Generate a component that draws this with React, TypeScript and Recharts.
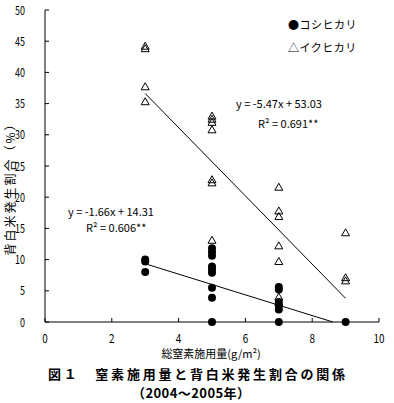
import React from "react";
import { ScatterChart, Scatter, XAxis, YAxis } from "recharts";

const koshiX = [3, 3, 3, 5, 5, 5, 5, 5, 5, 5, 5, 5, 7, 7, 7, 7, 7, 7, 9];
const koshiY = [10.0, 9.7, 8.0, 11.8, 11.2, 10.6, 8.9, 8.4, 7.9, 5.5, 3.9, 0, 5.6, 5.2, 3.2, 2.6, 2.0, 0, 0];
const ikuX = [3, 3, 3, 3, 5, 5, 5, 5, 5, 5, 5, 7, 7, 7, 7, 7, 7, 7, 9, 9, 9];
const ikuY = [44.2, 43.8, 37.7, 35.3, 33.0, 32.5, 32.0, 30.8, 22.8, 22.3, 13.1, 21.6, 17.8, 16.9, 12.2, 9.7, 4.0, 3.2, 14.3, 7.1, 6.6];

const koshiSlope = -1.66;
const koshiIntercept = 14.31;
const ikuSlope = -5.47;
const ikuIntercept = 53.03;

const xTicks = [0, 2, 4, 6, 8, 10];
const yTicks = [0, 5, 10, 15, 20, 25, 30, 35, 40, 45, 50];

const seriesNames = ["コシヒカリ", "イクヒカリ"];
const eqKoshi = ["y = -1.66x + 14.31", "R² = 0.606**"];
const eqIku = ["y = -5.47x + 53.03", "R² = 0.691**"];
const xTitle = "総窒素施用量(g/m²)";
const yTitle = "背白米発生割合（%）";
const titleLines = ["図１　窒素施用量と背白米発生割合の関係", "（2004～2005年）"];

const koshiData = koshiX.map((x, i) => ({ x, y: koshiY[i] }));
const ikuData = ikuX.map((x, i) => ({ x, y: ikuY[i] }));
const koshiFit = [
  { x: 3, y: koshiIntercept + koshiSlope * 3 },
  { x: -koshiIntercept / koshiSlope, y: 0 },
];
const ikuFit = [
  { x: 3, y: ikuIntercept + ikuSlope * 3 },
  { x: 9, y: ikuIntercept + ikuSlope * 9 },
];

const FONT = "'Noto Sans CJK JP', 'DejaVu Sans', sans-serif";

const Dot = (props: any) => {
  const { cx, cy } = props;
  if (cx == null || cy == null) return <g />;
  return <circle cx={cx} cy={cy} r={4} fill="#000" />;
};

const Tri = (props: any) => {
  const { cx, cy } = props;
  if (cx == null || cy == null) return <g />;
  return (
    <path
      d={`M${cx},${cy - 4} L${cx + 4},${cy + 3} L${cx - 4},${cy + 3} Z`}
      fill="#fff"
      fillOpacity={0}
      stroke="#000"
      strokeWidth={1}
    />
  );
};

const NoShape = () => <g />;

const YTick = (props: any) => {
  const { x, y, payload } = props;
  const s = String(payload.value);
  return (
    <g>
      <line x1={x} y1={y} x2={x + 4} y2={y} stroke="#000" strokeWidth={1} />
      <text
        x={x - 20}
        y={y}
        dy="0.38em"
        textAnchor="end"
        fontSize={12}
        fontFamily={FONT}
        fill="#000"
        textLength={s.length * 5}
        lengthAdjust="spacingAndGlyphs"
      >
        {s}
      </text>
    </g>
  );
};

const XTick = (props: any) => {
  const { x, y, payload } = props;
  const s = String(payload.value);
  return (
    <g>
      <line x1={x} y1={y} x2={x} y2={y - 4} stroke="#000" strokeWidth={1} />
      <text
        x={x}
        y={y + 21}
        textAnchor="middle"
        fontSize={12}
        fontFamily={FONT}
        fill="#000"
        textLength={s.length * 5.5}
        lengthAdjust="spacingAndGlyphs"
      >
        {s}
      </text>
    </g>
  );
};

export default function App() {
  return (
    <div style={{ position: "absolute", left: 0, top: 0, width: 394, height: 403, background: "#fff" }}>
      <ScatterChart
        width={394}
        height={403}
        margin={{ top: 10, right: 15, bottom: 0, left: 0 }}
      >
        <XAxis
          type="number"
          dataKey="x"
          domain={[0, 10]}
          ticks={xTicks}
          height={81}
          tickSize={0}
          tickMargin={0}
          tickLine={false}
          tick={<XTick />}
          axisLine={{ stroke: "#000", strokeWidth: 1 }}
          interval={0}
        />
        <YAxis
          type="number"
          dataKey="y"
          domain={[0, 50]}
          ticks={yTicks}
          width={45}
          tickSize={0}
          tickMargin={0}
          tickLine={false}
          tick={<YTick />}
          axisLine={{ stroke: "#000", strokeWidth: 1 }}
          interval={0}
        />
        <Scatter data={koshiFit} line={{ stroke: "#000", strokeWidth: 1 }} shape={<NoShape />} isAnimationActive={false} />
        <Scatter data={ikuFit} line={{ stroke: "#000", strokeWidth: 1 }} shape={<NoShape />} isAnimationActive={false} />
        <Scatter name={seriesNames[1]} data={ikuData} shape={<Tri />} isAnimationActive={false} />
        <Scatter name={seriesNames[0]} data={koshiData} shape={<Dot />} isAnimationActive={false} />
      </ScatterChart>
      <svg
        width={394}
        height={403}
        style={{ position: "absolute", left: 0, top: 0, pointerEvents: "none" }}
        fontFamily={FONT}
      >
        <text x={288} y={29} fontSize={11} fill="#000" letterSpacing={0.5}>
          {"●" + seriesNames[0]}
        </text>
        <text x={288} y={52} fontSize={11} fill="#000" letterSpacing={0.5}>
          {"△" + seriesNames[1]}
        </text>
        <text x={236} y={108} fontSize={11} fill="#000" style={{ whiteSpace: "pre" }}>
          {eqIku[0]}
        </text>
        <text x={258} y={128} fontSize={11} fill="#000" style={{ whiteSpace: "pre" }}>
          {eqIku[1]}
        </text>
        <text x={68} y={216} fontSize={11} fill="#000" style={{ whiteSpace: "pre" }}>
          {eqKoshi[0]}
        </text>
        <text x={86} y={232} fontSize={11} fill="#000" style={{ whiteSpace: "pre" }}>
          {eqKoshi[1]}
        </text>
        <text x={211} y={358} fontSize={11} textAnchor="middle" fill="#000">
          {xTitle}
        </text>
        <text
          x={0}
          y={0}
          fontSize={12}
          textAnchor="middle"
          fill="#000"
          letterSpacing={2}
          transform="translate(15,186) rotate(-90)"
        >
          {yTitle}
        </text>
        <text
          x={48}
          y={379}
          fontSize={13}
          fontWeight="bold"
          fill="#000"
          textLength={297}
          lengthAdjust="spacing"
        >
          {titleLines[0]}
        </text>
        <text
          x={132}
          y={398}
          fontSize={13}
          fontWeight="bold"
          fill="#000"
          textLength={118}
          lengthAdjust="spacing"
        >
          {titleLines[1]}
        </text>
      </svg>
    </div>
  );
}
